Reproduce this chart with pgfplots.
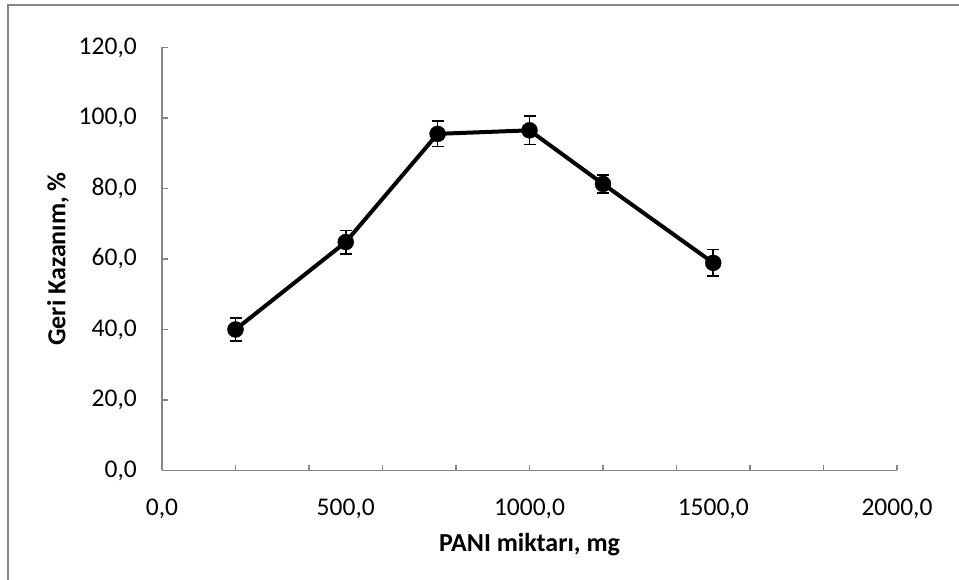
\documentclass[border=0pt]{standalone}
\usepackage{fontspec}
\setmainfont{Carlito}
\usepackage{pgfplots}
\pgfplotsset{compat=1.18}
\definecolor{axgray}{HTML}{868686}
\begin{document}
\begin{tikzpicture}[x=1pt,y=1pt]
\useasboundingbox (0,0) rectangle (959,580);
\draw[axgray, line width=1.5pt] (8,0) -- (8,575) -- (959,575);
\begin{axis}[
  at={(162pt,109.5pt)}, anchor=south west,
  scale only axis, width=735pt, height=423pt,
  xmin=0, xmax=2000, ymin=0, ymax=120,
  axis lines*=left,
  axis line style={axgray, line width=1.5pt},
  xtick={0,500,1000,1500,2000},
  major x tick style={draw=none},
  minor xtick={0,200,...,2000},
  ytick={0,20,...,120},
  major tick length=5.7pt, minor tick length=5.7pt,
  tick align=inside,
  tick style={axgray, line width=1.2pt},
  /pgf/number format/assume math mode=true,
  /pgf/number format/.cd, fixed, fixed zerofill, precision=1, use comma, 1000 sep={},
  /pgfplots/.cd,
  ticklabel style={font=\fontsize{25.5}{30}\selectfont, inner sep=0pt},
  xticklabel style={anchor=center, yshift=-38.5pt},
  yticklabel style={anchor=east, xshift=-25pt},
  xlabel={\textbf{PANI miktarı, mg}},
  ylabel={\textbf{Geri Kazanım, \%}},
  every axis x label/.style={at={(axis description cs:0.5,-0.176)}, anchor=center, font=\fontsize{26}{30}\selectfont},
  every axis y label/.style={at={(axis description cs:-0.1415,0.5)}, anchor=center, rotate=90, font=\fontsize{26}{30}\selectfont},
  clip=false,
]
\addplot[black, line width=4pt, mark=*, mark size=8pt,
  mark options={line width=0.4pt, fill=black},
  error bars/.cd, y dir=both, y explicit,
  error bar style={line width=1.6pt, black},
  error mark options={rotate=90, mark size=6pt, line width=1.6pt, black}]
coordinates {
  (200,40.0) +- (0,3.3)
  (500,64.8) +- (0,3.3)
  (750,95.5) +- (0,3.6)
  (1000,96.5) +- (0,4.0)
  (1200,81.3) +- (0,2.6)
  (1500,58.9) +- (0,3.8)
};
\end{axis}
\end{tikzpicture}
\end{document}
